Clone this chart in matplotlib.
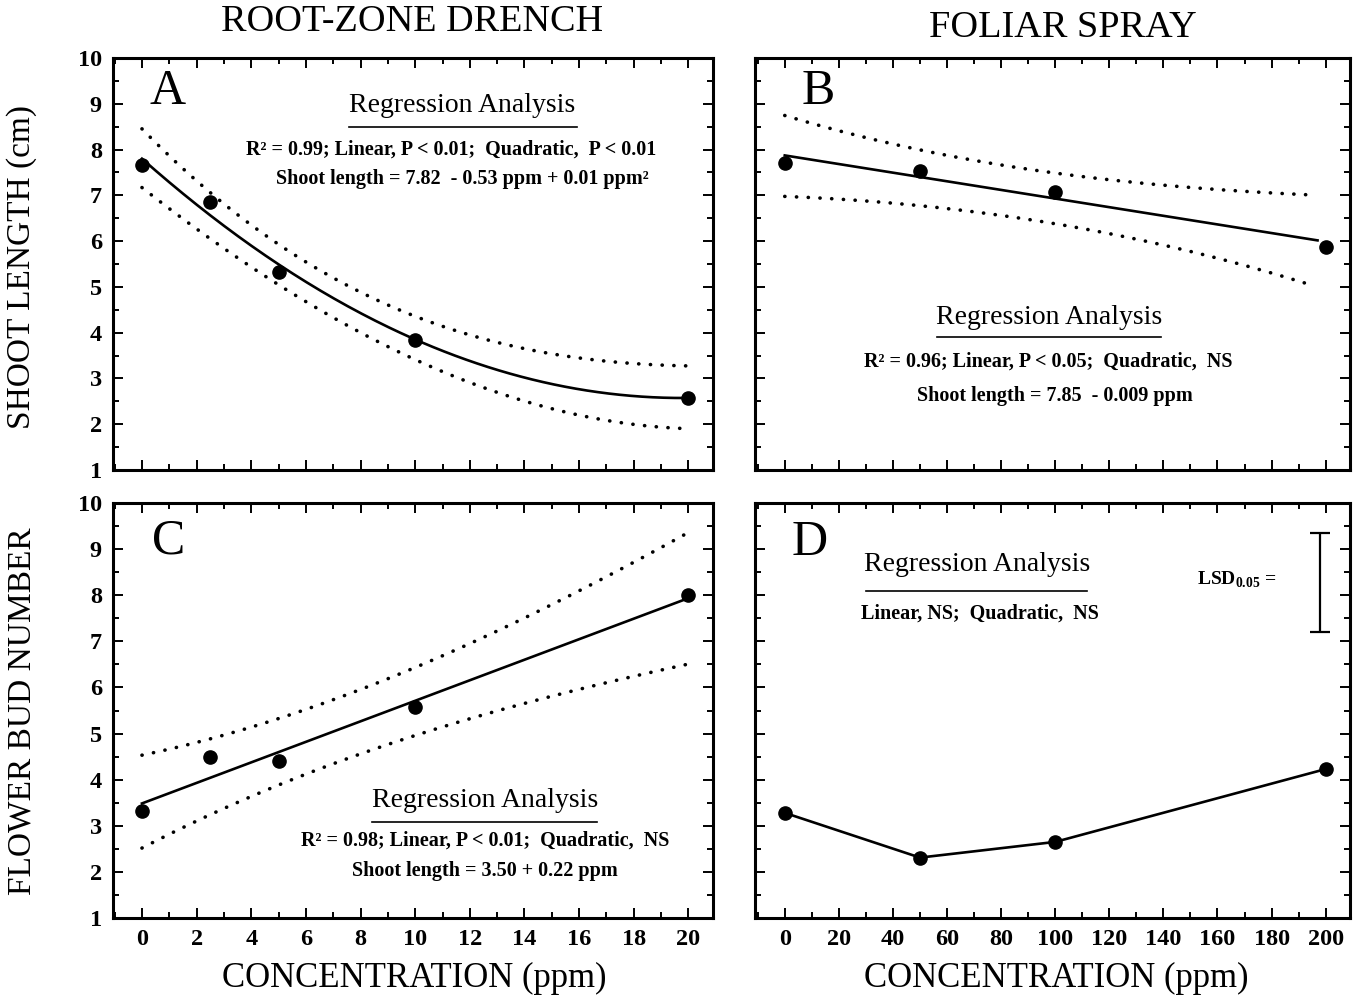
import numpy as np
import matplotlib
matplotlib.use("Agg")
import matplotlib.pyplot as plt
from matplotlib.lines import Line2D
from matplotlib.ticker import MultipleLocator

plt.rcParams['font.family'] = ['Liberation Serif', 'DejaVu Serif']
plt.rcParams['mathtext.fontset'] = 'custom'
plt.rcParams['mathtext.rm'] = 'Liberation Serif'
plt.rcParams['mathtext.bf'] = 'Liberation Serif:bold'

# ---------------- data ----------------
# Panel A: root-zone drench, shoot length
conc_drench = [0, 2.5, 5, 10, 20]
shoot_drench = [7.67, 6.86, 5.32, 3.85, 2.58]
bandA_x = [0, 2.5, 5, 7.5, 10, 12.5, 15, 17.5, 20]
bandA_upper = [8.47, 7.04, 5.89, 5.10, 4.30, 3.93, 3.55, 3.27, 3.31]
bandA_lower = [7.10, 6.20, 4.99, 4.17, 3.36, 2.76, 2.37, 2.12, 1.85]

# Panel B: foliar spray, shoot length
conc_spray = [0, 50, 100, 200]
shoot_spray = [7.70, 7.53, 7.08, 5.88]
bandB_x = [0, 50, 100, 150, 196]
bandB_upper = [8.74, 8.01, 7.46, 7.19, 7.00]
bandB_lower = [6.98, 6.76, 6.40, 5.76, 5.02]

# Panel C: root-zone drench, flower bud number
buds_drench = [3.31, 4.49, 4.40, 5.57, 8.00]
bandC_x = [0, 5, 7.5, 10, 15, 20]
bandC_upper = [4.53, 5.33, 5.84, 6.43, 7.80, 9.36]
bandC_lower = [2.52, 3.87, 4.46, 4.97, 5.80, 6.51]

# Panel D: foliar spray, flower bud number
buds_spray = [3.28, 2.31, 2.65, 4.23]
lsd_x = 198
lsd_low, lsd_high = 7.20, 9.35

W, H = 1361, 996
fig = plt.figure(figsize=(W / 100, H / 100), dpi=100)


def fx(x):
    return x / W


def fy(y):
    return 1 - y / H


axA = fig.add_axes([fx(113), fy(470), 600 / W, 412 / H])
axB = fig.add_axes([fx(755), fy(470), 595 / W, 412 / H])
axC = fig.add_axes([fx(113), fy(918), 600 / W, 415 / H])
axD = fig.add_axes([fx(755), fy(918), 595 / W, 415 / H])

dot_style = dict(color='black', lw=2.6, linestyle=(0, (0.05, 3.2)),
                 dash_capstyle='round')
mk = dict(marker='o', ms=9.5, color='black', linestyle='none', zorder=5)
fit_style = dict(color='black', lw=1.9)


def smooth_band(ax, bx, by):
    c = np.polyfit(bx, by, 3)
    xx = np.linspace(min(bx), max(bx), 200)
    ax.plot(xx, np.polyval(c, xx), **dot_style)


# A
xs = np.linspace(0, 20, 200)
cA = np.polyfit(conc_drench, shoot_drench, 2)
axA.plot(xs, np.polyval(cA, xs), **fit_style)
smooth_band(axA, bandA_x, bandA_upper)
smooth_band(axA, bandA_x, bandA_lower)
axA.plot(conc_drench, shoot_drench, **mk)

# B
xb = np.linspace(0, 197, 50)
cB = np.polyfit(conc_spray, shoot_spray, 1)
axB.plot(xb, np.polyval(cB, xb), **fit_style)
smooth_band(axB, bandB_x, bandB_upper)
smooth_band(axB, bandB_x, bandB_lower)
axB.plot(conc_spray, shoot_spray, **mk)

# C
cC = np.polyfit(conc_drench, buds_drench, 1)
axC.plot(xs, np.polyval(cC, xs), **fit_style)
smooth_band(axC, bandC_x, bandC_upper)
smooth_band(axC, bandC_x, bandC_lower)
axC.plot(conc_drench, buds_drench, **mk)

# D
axD.plot(conc_spray, buds_spray, color='black', lw=1.9)
axD.plot(conc_spray, buds_spray, **mk)
axD.errorbar([lsd_x], [(lsd_low + lsd_high) / 2], yerr=[(lsd_high - lsd_low) / 2],
             color='black', capsize=7, capthick=1.6, elinewidth=1.6)

for ax in (axA, axB, axC, axD):
    ax.set_ylim(1, 10)
    ax.yaxis.set_major_locator(MultipleLocator(1))
    ax.yaxis.set_minor_locator(MultipleLocator(0.5))
    ax.tick_params(which='both', direction='in', top=True, right=True,
                   width=1.4, labelsize=17.5)
    ax.tick_params(which='major', length=7)
    ax.tick_params(which='minor', length=4)
    for s in ax.spines.values():
        s.set_linewidth(2.2)
for ax in (axA, axC):
    ax.set_xlim(-1.06, 20.9)
    ax.xaxis.set_major_locator(MultipleLocator(2))
    ax.xaxis.set_minor_locator(MultipleLocator(1))
for ax in (axB, axD):
    ax.set_xlim(-11, 209)
    ax.xaxis.set_major_locator(MultipleLocator(20))
    ax.xaxis.set_minor_locator(MultipleLocator(10))
    ax.tick_params(labelleft=False)
for ax in (axA, axB):
    ax.tick_params(labelbottom=False)
for ax in (axA, axB, axC, axD):
    for lab in ax.get_xticklabels() + ax.get_yticklabels():
        lab.set_fontweight('bold')
    ax.tick_params(axis='y', pad=8)
    ax.tick_params(axis='x', pad=8)

# titles and axis labels
fig.text(fx(412), fy(22), 'ROOT-ZONE DRENCH', fontsize=27.5, ha='center', va='center')
fig.text(fx(1063), fy(28), 'FOLIAR SPRAY', fontsize=27.5, ha='center', va='center')
fig.text(fx(22), fy(267), 'SHOOT LENGTH (cm)', fontsize=24, rotation=90,
         ha='center', va='center')
fig.text(fx(22), fy(711), 'FLOWER BUD NUMBER', fontsize=24, rotation=90,
         ha='center', va='center')
fig.text(fx(414), fy(978), 'CONCENTRATION (ppm)', fontsize=25, ha='center', va='center')
fig.text(fx(1056), fy(978), 'CONCENTRATION (ppm)', fontsize=25, ha='center', va='center')

# panel letters
for lbl, (x, y) in {'A': (168, 92), 'B': (818, 92), 'C': (169, 541), 'D': (810, 543)}.items():
    fig.text(fx(x), fy(y), lbl, fontsize=36, ha='center', va='center')


def regression_block(cx, ty, ux1, ux2, uy, lines):
    fig.text(fx(cx), fy(ty), 'Regression Analysis', fontsize=20,
             ha='center', va='center')
    fig.add_artist(Line2D([fx(ux1), fx(ux2)], [fy(uy), fy(uy)],
                          transform=fig.transFigure, color='black', lw=1.2))
    for (lx, ly, txt) in lines:
        fig.text(fx(lx), fy(ly), txt, fontsize=14.5, fontweight='bold',
                 ha='center', va='center')


regression_block(462, 106, 349, 577, 127, [
    (451, 150, 'R² = 0.99; Linear, P < 0.01;  Quadratic,  P < 0.01'),
    (462, 179, 'Shoot length = 7.82  - 0.53 ppm + 0.01 ppm²')])
regression_block(1049, 317, 937, 1161, 337, [
    (1048, 362, 'R² = 0.96; Linear, P < 0.05;  Quadratic,  NS'),
    (1055, 396, 'Shoot length = 7.85  - 0.009 ppm')])
regression_block(485, 800, 372, 597, 822, [
    (485, 841, 'R² = 0.98; Linear, P < 0.01;  Quadratic,  NS'),
    (485, 871, 'Shoot length = 3.50 + 0.22 ppm')])
regression_block(977, 564, 866, 1087, 591, [
    (980, 614, 'Linear, NS;  Quadratic,  NS')])

fig.text(fx(1237), fy(580), r'LSD$_{\mathbf{0.05}}$ =', fontsize=14,
         fontweight='bold', ha='center', va='center')

fig.savefig('out.png', dpi=100, facecolor='white')
